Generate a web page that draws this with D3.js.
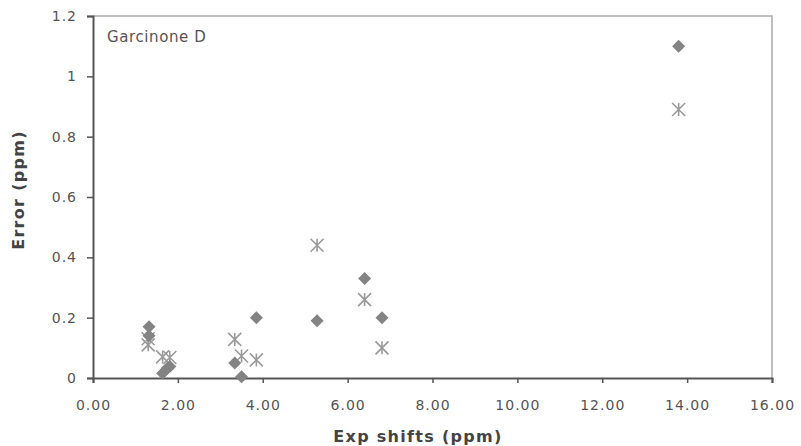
<!DOCTYPE html>
<html><head><meta charset="utf-8">
<script src="https://cdn.jsdelivr.net/npm/d3@7"></script>
<style>body{margin:0;background:#fff}svg{display:block}</style>
</head><body>
<script>
const chartLabel = "Garcinone D";
const xTicks = [0,2,4,6,8,10,12,14,16];
const yTicks = [0,0.2,0.4,0.6,0.8,1,1.2];
const diamondX = [1.32,1.32,1.64,1.75,1.81,3.34,3.50,3.85,5.28,6.40,6.81,13.80];
const diamondY = [0.17,0.14,0.016,0.032,0.038,0.05,0.004,0.20,0.19,0.33,0.20,1.10];
const starX = [1.30,1.30,1.64,1.81,3.34,3.50,3.85,5.28,6.40,6.81,13.80];
const starY = [0.13,0.11,0.07,0.068,0.128,0.073,0.06,0.44,0.26,0.10,0.89];

const W=801,H=446, L=93, R=772, T=16, B=378;
const svg=d3.select("body").append("svg").attr("width",W).attr("height",H);
const x=d3.scaleLinear().domain([0,16]).range([L,R]);
const y=d3.scaleLinear().domain([0,1.2]).range([B,T]);
const font="DejaVu Sans, Verdana, sans-serif";

// frame top/right
svg.append("path").attr("d",`M${L},${T}H${R}V${B}`).attr("fill","none").attr("stroke","#aaa").attr("stroke-width",1.5);

const gx=svg.append("g").attr("transform",`translate(0,${B})`)
  .call(d3.axisBottom(x).tickValues(xTicks).tickFormat(d3.format(".2f")).tickSize(5).tickPadding(17));
const gy=svg.append("g").attr("transform",`translate(${L},0)`)
  .call(d3.axisLeft(y).tickValues(yTicks).tickFormat(d=>String(d)).tickSize(6).tickPadding(10));
[gx,gy].forEach(g=>{
  g.select(".domain").attr("stroke","#555").attr("stroke-width",2);
  g.selectAll(".tick line").attr("stroke","#555").attr("stroke-width",1.5);
  g.selectAll(".tick text").attr("fill","#555").style("font-family",font).style("font-size","14px").style("letter-spacing","1px");
});

svg.append("text").attr("x",107).attr("y",42).text(chartLabel)
  .attr("fill","#555").style("font-family",font).style("font-size","15px").style("letter-spacing","0.6px");

svg.append("text").attr("x",418).attr("y",442).attr("text-anchor","middle")
  .text("Exp shifts (ppm)").attr("fill","#444").style("font-family",font).style("font-size","16px").style("font-weight","bold").style("letter-spacing","1.3px");
svg.append("text").attr("transform",`translate(24,190) rotate(-90)`).attr("text-anchor","middle")
  .text("Error (ppm)").attr("fill","#444").style("font-family",font).style("font-size","16px").style("font-weight","bold").style("letter-spacing","1.3px");

const stars=starX.map((v,i)=>({x:v,y:starY[i]}));
const dias=diamondX.map((v,i)=>({x:v,y:diamondY[i]}));
const sw=6.5, sh=6.5;
svg.append("g").selectAll("path").data(stars).join("path")
  .attr("d",d=>{const cx=x(d.x),cy=y(d.y);return `M${cx-sw},${cy-sh}L${cx+sw},${cy+sh}M${cx+sw},${cy-sh}L${cx-sw},${cy+sh}M${cx},${cy-sh}V${cy+sh}`;})
  .attr("stroke","#9a9a9a").attr("stroke-width",1.6).attr("fill","none");
const ds=6.5;
svg.append("g").selectAll("path").data(dias).join("path")
  .attr("d",d=>{const cx=x(d.x),cy=y(d.y);return `M${cx},${cy-ds}L${cx+ds},${cy}L${cx},${cy+ds}L${cx-ds},${cy}Z`;})
  .attr("fill","#838383");
</script>
</body></html>
